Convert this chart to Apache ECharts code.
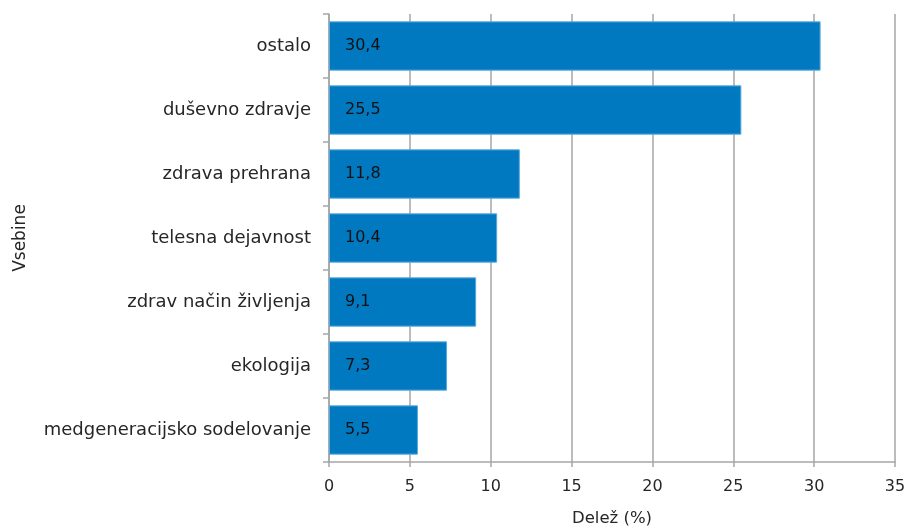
<!DOCTYPE html>
<html>
<head>
<meta charset="utf-8">
<script src="https://cdn.jsdelivr.net/npm/echarts@6/dist/echarts.min.js"></script>
<style>
  html, body { margin: 0; padding: 0; background: #fff; overflow: hidden; }
  #chart { width: 907px; height: 527px; }
</style>
</head>
<body>
<div id="chart"></div>
<script>
// Topics, listed top to bottom
const categories = [
  'ostalo',
  'duševno zdravje',
  'zdrava prehrana',
  'telesna dejavnost',
  'zdrav način življenja',
  'ekologija',
  'medgeneracijsko sodelovanje'
];
// Share (%) per topic
const shares = [30.4, 25.5, 11.8, 10.4, 9.1, 7.3, 5.5];
const xTicks = [0, 5, 10, 15, 20, 25, 30, 35];

const FONT = '"DejaVu Sans", sans-serif';
const TEXT = '#262626';
const AXIS = '#a6a6a6';
const chart = echarts.init(document.getElementById('chart'));

chart.setOption({
  animation: false,
  grid: {
    left: 329, right: 12, top: 14, bottom: 65,
    containLabel: false,
    outerBoundsMode: 'none'
  },
  xAxis: {
    type: 'value',
    min: xTicks[0],
    max: xTicks[xTicks.length - 1],
    interval: 5,
    name: 'Delež (%)',
    nameLocation: 'middle',
    nameGap: 48,
    nameTextStyle: { fontFamily: FONT, fontSize: 16.5, color: TEXT },
    axisLine: { show: true, lineStyle: { color: AXIS, width: 1.5 } },
    axisTick: { show: true, length: 5, lineStyle: { color: AXIS, width: 1.5 } },
    axisLabel: { fontFamily: FONT, fontSize: 16, color: TEXT, margin: 17 },
    splitLine: { show: true, lineStyle: { color: AXIS, width: 1.5 } }
  },
  yAxis: {
    type: 'category',
    data: categories,
    inverse: true,
    name: 'Vsebine',
    nameLocation: 'middle',
    nameRotate: 90,
    nameGap: 300,
    nameTextStyle: { fontFamily: FONT, fontSize: 17, color: TEXT },
    axisLine: { show: true, lineStyle: { color: AXIS, width: 1.5 } },
    axisTick: { show: true, length: 6, lineStyle: { color: AXIS, width: 1.5 } },
    axisLabel: { fontFamily: FONT, fontSize: 18, color: TEXT, margin: 18 },
    splitLine: { show: false }
  },
  series: [{
    type: 'bar',
    data: shares,
    barCategoryGap: '23%',
    itemStyle: { color: '#0079c1', borderColor: '#5aa9dc', borderWidth: 1 },
    label: {
      show: true,
      position: 'insideLeft',
      distance: 16,
      fontFamily: FONT,
      fontSize: 16,
      color: '#111',
      formatter: p => String(p.value).replace('.', ',')
    }
  }]
});
</script>
</body>
</html>
